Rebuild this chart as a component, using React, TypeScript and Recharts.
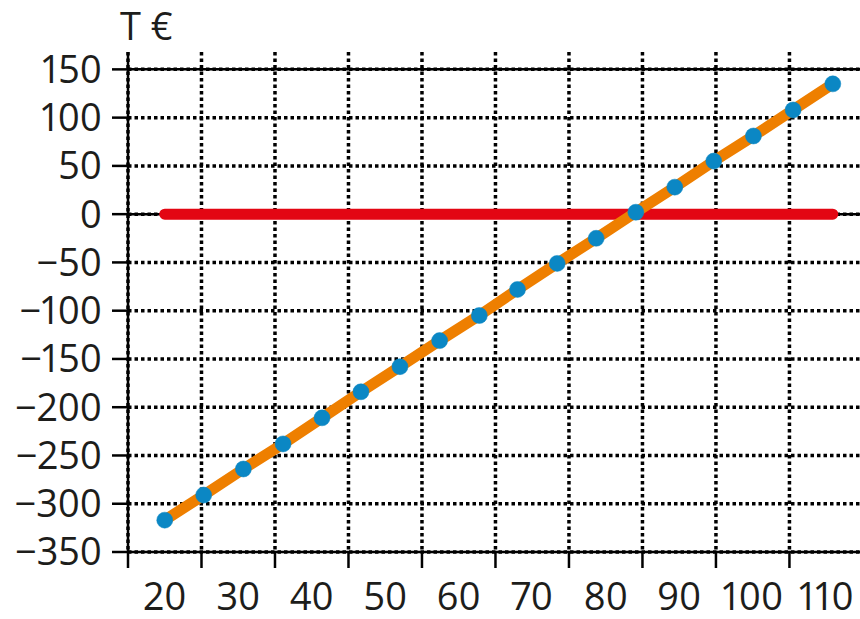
import React from "react";
import {
  LineChart,
  Line,
  XAxis,
  YAxis,
  CartesianGrid,
  ReferenceLine
} from "recharts";

// Menge (x) und Gewinn in T € (y)
const mengen = [
  20.0, 25.3, 30.7, 36.1, 41.4, 46.7, 52.0, 57.4, 62.8,
  68.0, 73.4, 78.7, 84.1, 89.4, 94.7, 100.1, 105.5, 110.9
];
const gewinn = [
  -317, -291, -264, -238, -211, -184, -158, -131, -105,
  -78, -51, -25, 2, 28, 55, 81, 108, 135
];
const nullLinie = [
  0, 0, 0, 0, 0, 0, 0, 0, 0,
  0, 0, 0, 0, 0, 0, 0, 0, 0
];

const xGridTicks = [15, 25, 35, 45, 55, 65, 75, 85, 95, 105];
const xLabelTicks = [20, 30, 40, 50, 60, 70, 80, 90, 100, 110];
const yTicks = [-350, -300, -250, -200, -150, -100, -50, 0, 50, 100, 150];

const data = mengen.map((m, i) => ({
  x: m,
  gewinn: gewinn[i],
  null: nullLinie[i]
}));

const FONT = "'Open Sans', 'Noto Sans', sans-serif";
const TEXT = "#1d1d1b";
const tickStyle = {
  fill: TEXT,
  fontSize: 38,
  fontFamily: FONT,
  style: { fontVariantNumeric: "proportional-nums" }
};

const fmt = (v: number) => String(v).replace("-", "\u2212");

// nur Strich, keine Beschriftung
const NoLabel = () => <g />;

export default function App() {
  return (
    <div style={{ position: "absolute", left: 0, top: 0, width: 860, height: 619, background: "#fff" }}>
      <div
        style={{
          position: "absolute",
          left: 120,
          top: 6,
          fontFamily: FONT,
          fontSize: 38,
          lineHeight: "38px",
          color: TEXT,
          whiteSpace: "nowrap"
        }}
      >
        T €
      </div>
      <LineChart
        width={860}
        height={619}
        data={data}
        margin={{ top: 52, right: 0, bottom: 65, left: 0 }}
      >
        <CartesianGrid
          stroke="#000"
          strokeWidth={3.5}
          strokeDasharray="3.5 3"
          syncWithTicks
        />
        <XAxis
          dataKey="x"
          type="number"
          domain={[15, 114.6]}
          ticks={xGridTicks}
          tick={NoLabel}
          interval={0}
          height={1}
          tickSize={16}
          axisLine={{ stroke: "#000", strokeWidth: 2.5 }}
          tickLine={{ stroke: "#000", strokeWidth: 2.5 }}
        />
        <XAxis
          xAxisId="lab"
          dataKey="x"
          type="number"
          domain={[15, 114.6]}
          ticks={xLabelTicks}
          height={1}
          axisLine={false}
          tickLine={false}
          tickSize={0}
          tickMargin={30}
          tick={tickStyle}
          interval={0}
        />
        <YAxis
          type="number"
          domain={[-350, 168]}
          ticks={yTicks}
          width={128}
          tickSize={16}
          tickMargin={10}
          tick={tickStyle}
          tickFormatter={fmt}
          interval={0}
          axisLine={{ stroke: "#000", strokeWidth: 2.5 }}
          tickLine={{ stroke: "#000", strokeWidth: 2.5 }}
        />
        <ReferenceLine y={150} stroke="#000" strokeWidth={2.5} />
        <ReferenceLine y={0} stroke="#000" strokeWidth={2.5} />
        <Line
          dataKey="null"
          stroke="#e30613"
          strokeWidth={11}
          strokeLinecap="round"
          dot={false}
          activeDot={false}
          isAnimationActive={false}
        />
        <Line
          dataKey="gewinn"
          stroke="#ee7f00"
          strokeWidth={11}
          dot={{ r: 8, fill: "#0b87c4", stroke: "#0b87c4", strokeWidth: 0.5 }}
          activeDot={false}
          isAnimationActive={false}
        />
      </LineChart>
    </div>
  );
}
